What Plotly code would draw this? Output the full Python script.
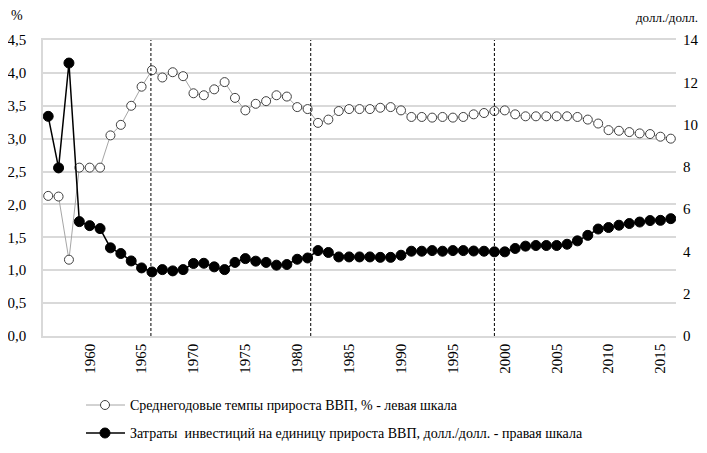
import plotly.graph_objects as go

years = list(range(1956, 2017))

gdp_growth = [2.13, 2.12, 1.16, 2.56, 2.56, 2.56, 3.05, 3.21, 3.50, 3.79,
              4.04, 3.93, 4.01, 3.95, 3.69, 3.66, 3.75, 3.86, 3.62, 3.43,
              3.53, 3.57, 3.66, 3.64, 3.48, 3.45, 3.24, 3.29, 3.42, 3.45,
              3.45, 3.45, 3.47, 3.48, 3.43, 3.33, 3.33, 3.32, 3.33, 3.32,
              3.33, 3.37, 3.39, 3.42, 3.43, 3.37, 3.34, 3.34, 3.34, 3.34,
              3.34, 3.33, 3.29, 3.23, 3.13, 3.12, 3.10, 3.08, 3.07, 3.03,
              3.00]

invest_cost = [10.39, 7.95, 12.91, 5.41, 5.22, 5.08, 4.17, 3.90, 3.55, 3.22,
               3.03, 3.14, 3.08, 3.14, 3.43, 3.44, 3.27, 3.14, 3.48, 3.66,
               3.54, 3.48, 3.35, 3.38, 3.63, 3.69, 4.04, 3.95, 3.74, 3.74,
               3.74, 3.74, 3.72, 3.72, 3.82, 4.01, 4.01, 4.04, 4.01, 4.04,
               4.04, 4.02, 4.01, 3.98, 3.98, 4.14, 4.25, 4.28, 4.28, 4.28,
               4.34, 4.50, 4.76, 5.06, 5.13, 5.24, 5.32, 5.39, 5.46, 5.47,
               5.55]

year_ticks = list(range(1960, 2016, 5))
left_ticks = [0, 0.5, 1, 1.5, 2, 2.5, 3, 3.5, 4, 4.5]
right_ticks = [0, 2, 4, 6, 8, 10, 12, 14]
divider_years = [1965.9, 1981.3, 1999.0]

name_gdp = "Среднегодовые темпы прироста ВВП, % - левая шкала"
name_inv = "Затраты  инвестиций на единицу прироста ВВП, долл./долл. - правая шкала"

FONT = "Times New Roman, Liberation Serif, DejaVu Serif, serif"

fig = go.Figure()
fig.add_trace(go.Scatter(
    x=years, y=gdp_growth, name=name_gdp, mode="lines+markers",
    line=dict(color="#a6a6a6", width=1),
    marker=dict(symbol="circle", size=9, color="white",
                line=dict(color="#404040", width=1)),
    yaxis="y", showlegend=False))
fig.add_trace(go.Scatter(
    x=years, y=invest_cost, name=name_inv, mode="lines+markers",
    line=dict(color="black", width=1.5),
    marker=dict(symbol="circle", size=10, color="black",
                line=dict(color="black", width=1)),
    yaxis="y2", showlegend=False))

for yr in divider_years:
    fig.add_shape(type="line", xref="x", yref="paper", x0=yr, x1=yr, y0=0, y1=1,
                  line=dict(color="black", width=1, dash="3px,2px"))

# the page body has an 8px margin; the figure is sized to fit the window.
# Reference pixel coords: plot area 43..676 (x), 40..336 (y)
def px_x(px):
    return (px - 43) / 633.0

def px_y(py):
    return (336 - py) / 296.0

legend_rows = [
    (name_gdp, 405, "#a6a6a6", 1, "white", "#404040", 9),
    (name_inv, 433, "black", 1.5, "black", "black", 10),
]
annotations = []
for text, ry, lc, lw, mfill, mline, msize in legend_rows:
    fig.add_shape(type="line", xref="paper", yref="paper",
                  x0=px_x(86), x1=px_x(125), y0=px_y(ry), y1=px_y(ry),
                  line=dict(color=lc, width=lw))
    fig.add_shape(type="circle", xref="paper", yref="paper",
                  xsizemode="pixel", ysizemode="pixel",
                  xanchor=px_x(105), yanchor=px_y(ry),
                  x0=-msize / 2, x1=msize / 2, y0=-msize / 2, y1=msize / 2,
                  fillcolor=mfill, line=dict(color=mline, width=1))
    annotations.append(dict(text=text, xref="paper", yref="paper",
                            x=px_x(128), y=px_y(ry), xanchor="left",
                            yanchor="middle", showarrow=False,
                            font=dict(family=FONT, size=14, color="black")))

annotations += [
    dict(text="%", xref="paper", yref="paper", x=px_x(17), y=px_y(15),
         xanchor="center", yanchor="middle", showarrow=False,
         font=dict(family=FONT, size=14)),
    dict(text="долл./долл.", xref="paper", yref="paper", x=px_x(700), y=px_y(17),
         xanchor="right", yanchor="middle", showarrow=False,
         font=dict(family=FONT, size=13)),
]

fig.update_layout(
    width=699, height=445,
    margin=dict(l=35, r=31, t=32, b=117, autoexpand=False),
    paper_bgcolor="white", plot_bgcolor="white",
    separators=", ",
    font=dict(family=FONT, size=15, color="black"),
    showlegend=False,
    xaxis=dict(range=[1955.5, 2016.5], tickmode="array", tickvals=year_ticks,
               ticktext=[str(y) for y in year_ticks], tickangle=-90,
               showgrid=False, zeroline=False, showline=True, linecolor="#d9d9d9",
               linewidth=1.5, mirror=True, ticks="", automargin=False,
               tickfont=dict(family=FONT, size=15)),
    yaxis=dict(range=[0, 4.5], tickmode="array", tickvals=left_ticks,
               tickformat=".1f", showgrid=True, gridcolor="#d9d9d9", gridwidth=1.5,
               zeroline=False, showline=True, linecolor="#d9d9d9", linewidth=1.5,
               ticks="", ticklabelstandoff=12, automargin=False,
               tickfont=dict(family=FONT, size=15)),
    yaxis2=dict(range=[0, 14], tickmode="array", tickvals=right_ticks,
                overlaying="y", side="right", showgrid=False, zeroline=False,
                showline=False, ticks="", automargin=False,
                tickfont=dict(family=FONT, size=15), ticklabelstandoff=6),
    annotations=annotations,
)

fig.write_html("out.html")
